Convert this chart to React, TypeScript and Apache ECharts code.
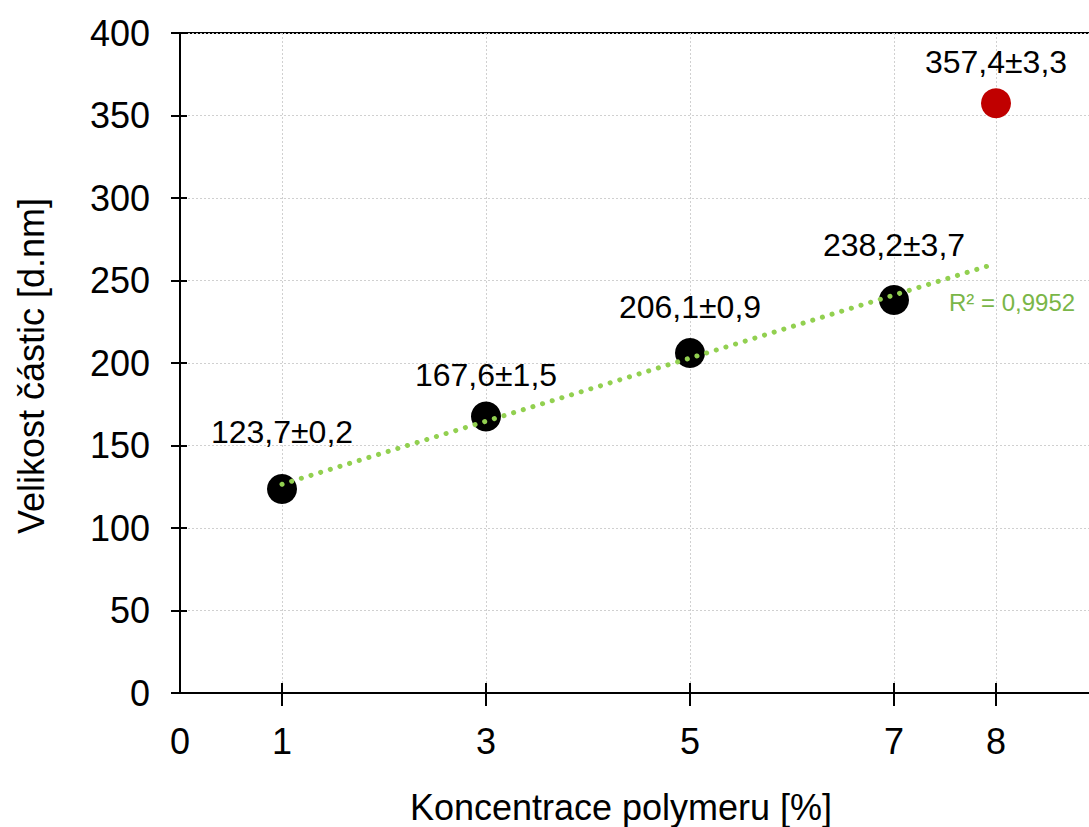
import React, { useEffect, useRef } from "react";
import * as echarts from "echarts";

const concentrations = [1, 3, 5, 7];
const particleSizes = [123.7, 167.6, 206.1, 238.2];
const pointLabels = ["123,7±0,2", "167,6±1,5", "206,1±0,9", "238,2±3,7"];
const outlierConcentrations = [8];
const outlierSizes = [357.4];
const outlierLabels = ["357,4±3,3"];
const trendX = [1, 8];
const trendY = [126.5, 260.3];
const r2Text = "R² = 0,9952";
const xLabelValues = [0, 1, 3, 5, 7, 8];
const xTickValues = [1, 3, 5, 7, 8];
const xTitle = "Koncentrace polymeru [%]";
const yTitle = "Velikost částic [d.nm]";

// label gaps (style only)
const labelGaps = [26, 10, 15, 24];
const outlierLabelGaps = [10];

const FONT = "'Liberation Sans', Arial, sans-serif";

export default function App() {
  const ref = useRef<HTMLDivElement>(null);
  useEffect(() => {
    if (!ref.current) return;
    const chart = echarts.init(ref.current, null, { renderer: "svg" });
    const gridLine = { show: true, lineStyle: { color: "#D0D0D0", type: [2, 2], width: 1 } };
    const option = {
      animation: false,
      textStyle: { fontFamily: FONT },
      grid: {
        left: 180,
        top: 33,
        width: 918,
        bottom: 134,
        show: true,
        borderColor: "#000",
        borderWidth: 2,
        backgroundColor: "transparent",
      },
      xAxis: [
        {
          type: "value",
          min: 0,
          max: 9,
          interval: 1,
          axisLine: { show: true, lineStyle: { color: "#000", width: 2 } },
          axisTick: { show: true, customValues: xTickValues, length: 13, lineStyle: { color: "#000", width: 2 } },
          axisLabel: { customValues: xLabelValues, fontSize: 36, color: "#000", margin: 30, fontFamily: FONT },
          splitLine: gridLine,
        },
        {
          type: "value",
          min: 0,
          max: 9,
          interval: 1,
          position: "bottom",
          axisLine: { show: false },
          axisTick: { show: true, inside: true, customValues: xTickValues, length: 10, lineStyle: { color: "#000", width: 2 } },
          axisLabel: { show: false },
          splitLine: { show: false },
        },
      ],
      yAxis: [
        {
          type: "value",
          min: 0,
          max: 400,
          interval: 50,
          axisLine: { show: true, lineStyle: { color: "#000", width: 2 } },
          axisTick: { show: true, length: 9, lineStyle: { color: "#000", width: 2 } },
          axisLabel: { fontSize: 36, color: "#000", margin: 30, fontFamily: FONT },
          splitLine: gridLine,
        },
        {
          type: "value",
          min: 0,
          max: 400,
          interval: 50,
          position: "left",
          axisLine: { show: false },
          axisTick: { show: true, inside: true, length: 7, lineStyle: { color: "#000", width: 2 } },
          axisLabel: { show: false },
          splitLine: { show: false },
        },
      ],
      series: [
        {
          type: "scatter",
          symbol: "circle",
          symbolSize: 30,
          itemStyle: { color: "#000", opacity: 1 },
          data: concentrations.map((x, i) => ({
            value: [x, particleSizes[i]],
            label: {
              show: true,
              position: "top",
              distance: labelGaps[i],
              formatter: pointLabels[i],
              fontSize: 32,
              color: "#000",
              fontFamily: FONT,
            },
          })),
        },
        {
          type: "scatter",
          symbol: "circle",
          symbolSize: 30,
          itemStyle: { color: "#C00000", opacity: 1 },
          data: outlierConcentrations.map((x, i) => ({
            value: [x, outlierSizes[i]],
            label: {
              show: true,
              position: "top",
              distance: outlierLabelGaps[i],
              formatter: outlierLabels[i],
              fontSize: 32,
              color: "#000",
              fontFamily: FONT,
            },
          })),
        },
        {
          type: "line",
          showSymbol: false,
          symbol: "none",
          data: trendX.map((x, i) => [x, trendY[i]]),
          lineStyle: { color: "#92D050", width: 5, type: [0.1, 10], cap: "round" },
          z: 5,
        },
      ],
      graphic: [
        {
          type: "text",
          x: 949,
          y: 302,
          style: {
            text: r2Text,
            fontSize: 24,
            fill: "#7AB648",
            fontFamily: FONT,
            textAlign: "left",
            textVerticalAlign: "middle",
          },
        },
        {
          type: "text",
          x: 621,
          y: 807,
          style: {
            text: xTitle,
            fontSize: 36,
            fill: "#000",
            fontFamily: FONT,
            textAlign: "center",
            textVerticalAlign: "middle",
          },
        },
        {
          type: "text",
          x: 31,
          y: 366,
          rotation: Math.PI / 2,
          style: {
            text: yTitle,
            fontSize: 36,
            fill: "#000",
            fontFamily: FONT,
            textAlign: "center",
            textVerticalAlign: "middle",
          },
        },
      ],
    };
    chart.setOption(option as any);
    return () => chart.dispose();
  }, []);
  return (
    <div
      style={{ position: "fixed", left: 0, top: 0, width: 1089, height: 827, overflow: "hidden", background: "#fff" }}
    >
      <div ref={ref} style={{ width: 1100, height: 827 }} />
    </div>
  );
}
